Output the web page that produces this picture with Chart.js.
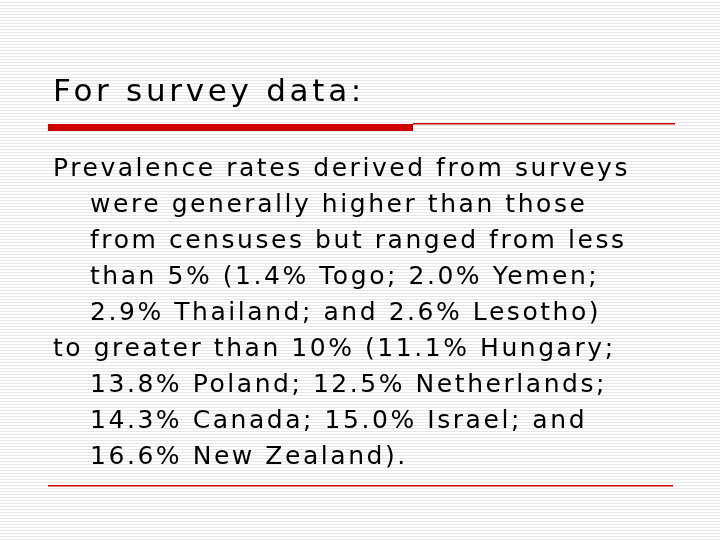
<!DOCTYPE html>
<html><head><meta charset="utf-8">
<script src="https://cdn.jsdelivr.net/npm/chart.js@4"></script>
<style>
html,body{margin:0;padding:0;width:720px;height:540px;overflow:hidden;
background:repeating-linear-gradient(to bottom,#fff 0px,#fff 2px,#e6e6e6 2px,#e6e6e6 3px);}
#c{position:absolute;left:0;top:0}
#title{position:absolute;left:53px;top:72px;font-family:"DejaVu Sans","DejaVu Sans Book",Verdana,sans-serif;font-size:31px;color:#000;white-space:nowrap}
#body{position:absolute;left:53px;top:150px;width:700px;font-family:"DejaVu Sans","DejaVu Sans Book",Verdana,sans-serif;font-size:25px;line-height:36px;color:#000;white-space:nowrap}
.p{padding-left:37px;text-indent:-37px}
</style></head><body>
<canvas id="c" width="720" height="540"></canvas>
<div id="title"><span id="ts">For survey data:</span></div>
<div id="body"></div>
<script>
const lowCountries=["Togo","Yemen","Thailand","Lesotho"];
const lowValues=[1.4,2.0,2.9,2.6];
const highCountries=["Hungary","Poland","Netherlands","Canada","Israel","New Zealand"];
const highValues=[11.1,13.8,12.5,14.3,15.0,16.6];
function list(c,v){return c.map((n,i)=>v[i].toFixed(1)+"% "+n).map((s,i,a)=>i===a.length-1?"and "+s:s).join("; ");}
const b=document.getElementById('body');
const p1=document.createElement('div');p1.className='p';
p1.innerHTML="<span id='l1'>Prevalence rates derived from surveys</span><br>were generally higher than those<br>from censuses but ranged from less<br>than 5% ("+list(lowCountries,lowValues).replace("Yemen; ","Yemen;<br>")+")";
const p2=document.createElement('div');p2.className='p';
p2.innerHTML="to greater than 10% ("+list(highCountries,highValues).replace("Hungary; ","Hungary;<br>").replace("Netherlands; ","Netherlands;<br>").replace("and ","and<br>")+").";
b.appendChild(p1);b.appendChild(p2);
function fit(spanId,boxId,target){const s=document.getElementById(spanId);const w=s.getBoundingClientRect().width;const n=s.textContent.length;
document.getElementById(boxId).style.letterSpacing=((target-w)/n)+'px';}
fit('l1','body',577);
fit('ts','title',312);
const rules={id:'rules',afterDraw(ch){const x=ch.ctx;x.save();x.fillStyle='#cc0000';
x.fillRect(48,124,365,7);x.fillRect(413,123,262,1.5);x.fillRect(48,485,625,1.5);x.restore();}};
new Chart(document.getElementById('c'),{type:'bar',data:{labels:[],datasets:[]},
options:{responsive:false,animation:false,plugins:{legend:{display:false},tooltip:{enabled:false}},
scales:{x:{display:false},y:{display:false}}},plugins:[rules]});
</script></body></html>
